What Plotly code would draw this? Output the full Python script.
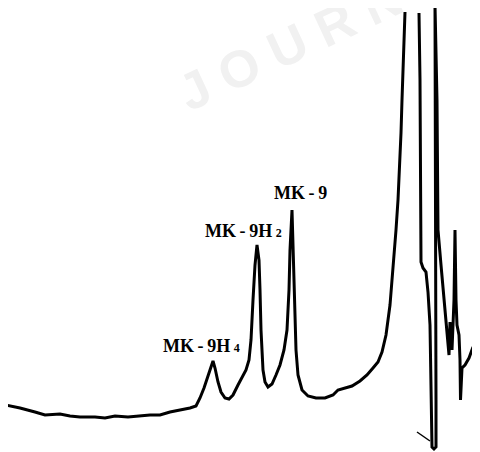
import plotly.graph_objects as go

# Chromatogram trace (time in chart units, response in chart units)
time = [6, 20, 35, 45, 60, 70, 80, 95, 105, 115, 128, 140, 150, 160, 170, 180, 190, 196,
        200, 204, 208, 211, 213, 215, 218, 221, 225, 229, 233, 238, 242, 246, 249, 251,
        253, 255, 257, 259, 260, 261, 263, 265, 268, 272, 276, 280, 284, 287, 289, 290,
        292, 293, 294, 296, 298, 302, 308, 316, 325, 333, 338, 345, 352, 360, 367, 373,
        378, 382, 386, 390, 393, 396, 398, 400, 401, 402, 403, 404, 405, None,
        419, 420, 421, 423, 426, 428, 430, 431, 432, 434, 436, 436, 435.5, 435,
        437, 438, 441, 444, 446, 448, 449, 450, 452, 454, 455, 456, 457, 459, 460, 460.5,
        462, 465, 469, 473, 475, 476, 477]
depth = [405, 408, 412, 415, 414, 416, 417, 417, 418, 416, 417, 416, 415, 415, 412, 410, 408, 406,
         398, 388, 375, 365, 361, 368, 382, 392, 398, 399, 395, 385, 378, 370, 360, 340,
         300, 265, 245, 260, 290, 330, 370, 382, 387, 384, 375, 365, 350, 330, 290, 250,
         210, 240, 290, 350, 375, 390, 396, 398, 398, 395, 390, 388, 386, 381, 375, 368,
         362, 352, 335, 305, 270, 230, 200, 160, 133, 100, 67, 40, 12, None,
         13, 80, 262, 268, 272, 292, 325, 390, 447, 449, 447, 400, 200, 5,
         100, 230, 265, 300, 325, 340, 355, 322, 350, 300, 230, 300, 325, 335, 360, 400,
         368, 365, 358, 347, 352, 380, 410]
response = [None if d is None else 452 - d for d in depth]

# injection mark
mark_time = [417, 430]
mark_resp = [452 - 432, 452 - 441]

SUB = "<span style='font-size:12px'>{}</span>"
peak_labels = ["MK\u2009-\u20099H\u2009" + SUB.format("4"),
               "MK\u2009-\u20099H\u2009" + SUB.format("2"),
               "MK\u2009-\u20099"]
label_time = [201, 243, 300]
label_resp = [452 - 346, 452 - 231, 452 - 193]

fig = go.Figure()
fig.add_trace(go.Scatter(x=time, y=response, mode="lines", connectgaps=False,
                         line=dict(color="black", width=3), hoverinfo="skip"))
fig.add_trace(go.Scatter(x=mark_time, y=mark_resp, mode="lines",
                         line=dict(color="black", width=1.5), hoverinfo="skip"))

# faint watermark
fig.add_annotation(x=333, y=452 - 25, text="J O U R N A L", showarrow=False,
                   textangle=-25, font=dict(family="Liberation Sans", size=52, color="#f1f1f1",
                                            weight="bold"))

for t, r, lab in zip(label_time, label_resp, peak_labels):
    fig.add_annotation(x=t, y=r, text=lab, showarrow=False,
                       font=dict(family="Liberation Serif", size=18, color="black", weight="bold"))

fig.update_layout(width=480, height=452, margin=dict(l=0, r=0, t=0, b=0),
                  paper_bgcolor="white", plot_bgcolor="white", showlegend=False)
# page body has an 8px margin; shift ranges so the trace lands where the reference has it
fig.update_xaxes(range=[8, 488], visible=False)
fig.update_yaxes(range=[-8, 444], visible=False)
fig.write_html("out.html")
